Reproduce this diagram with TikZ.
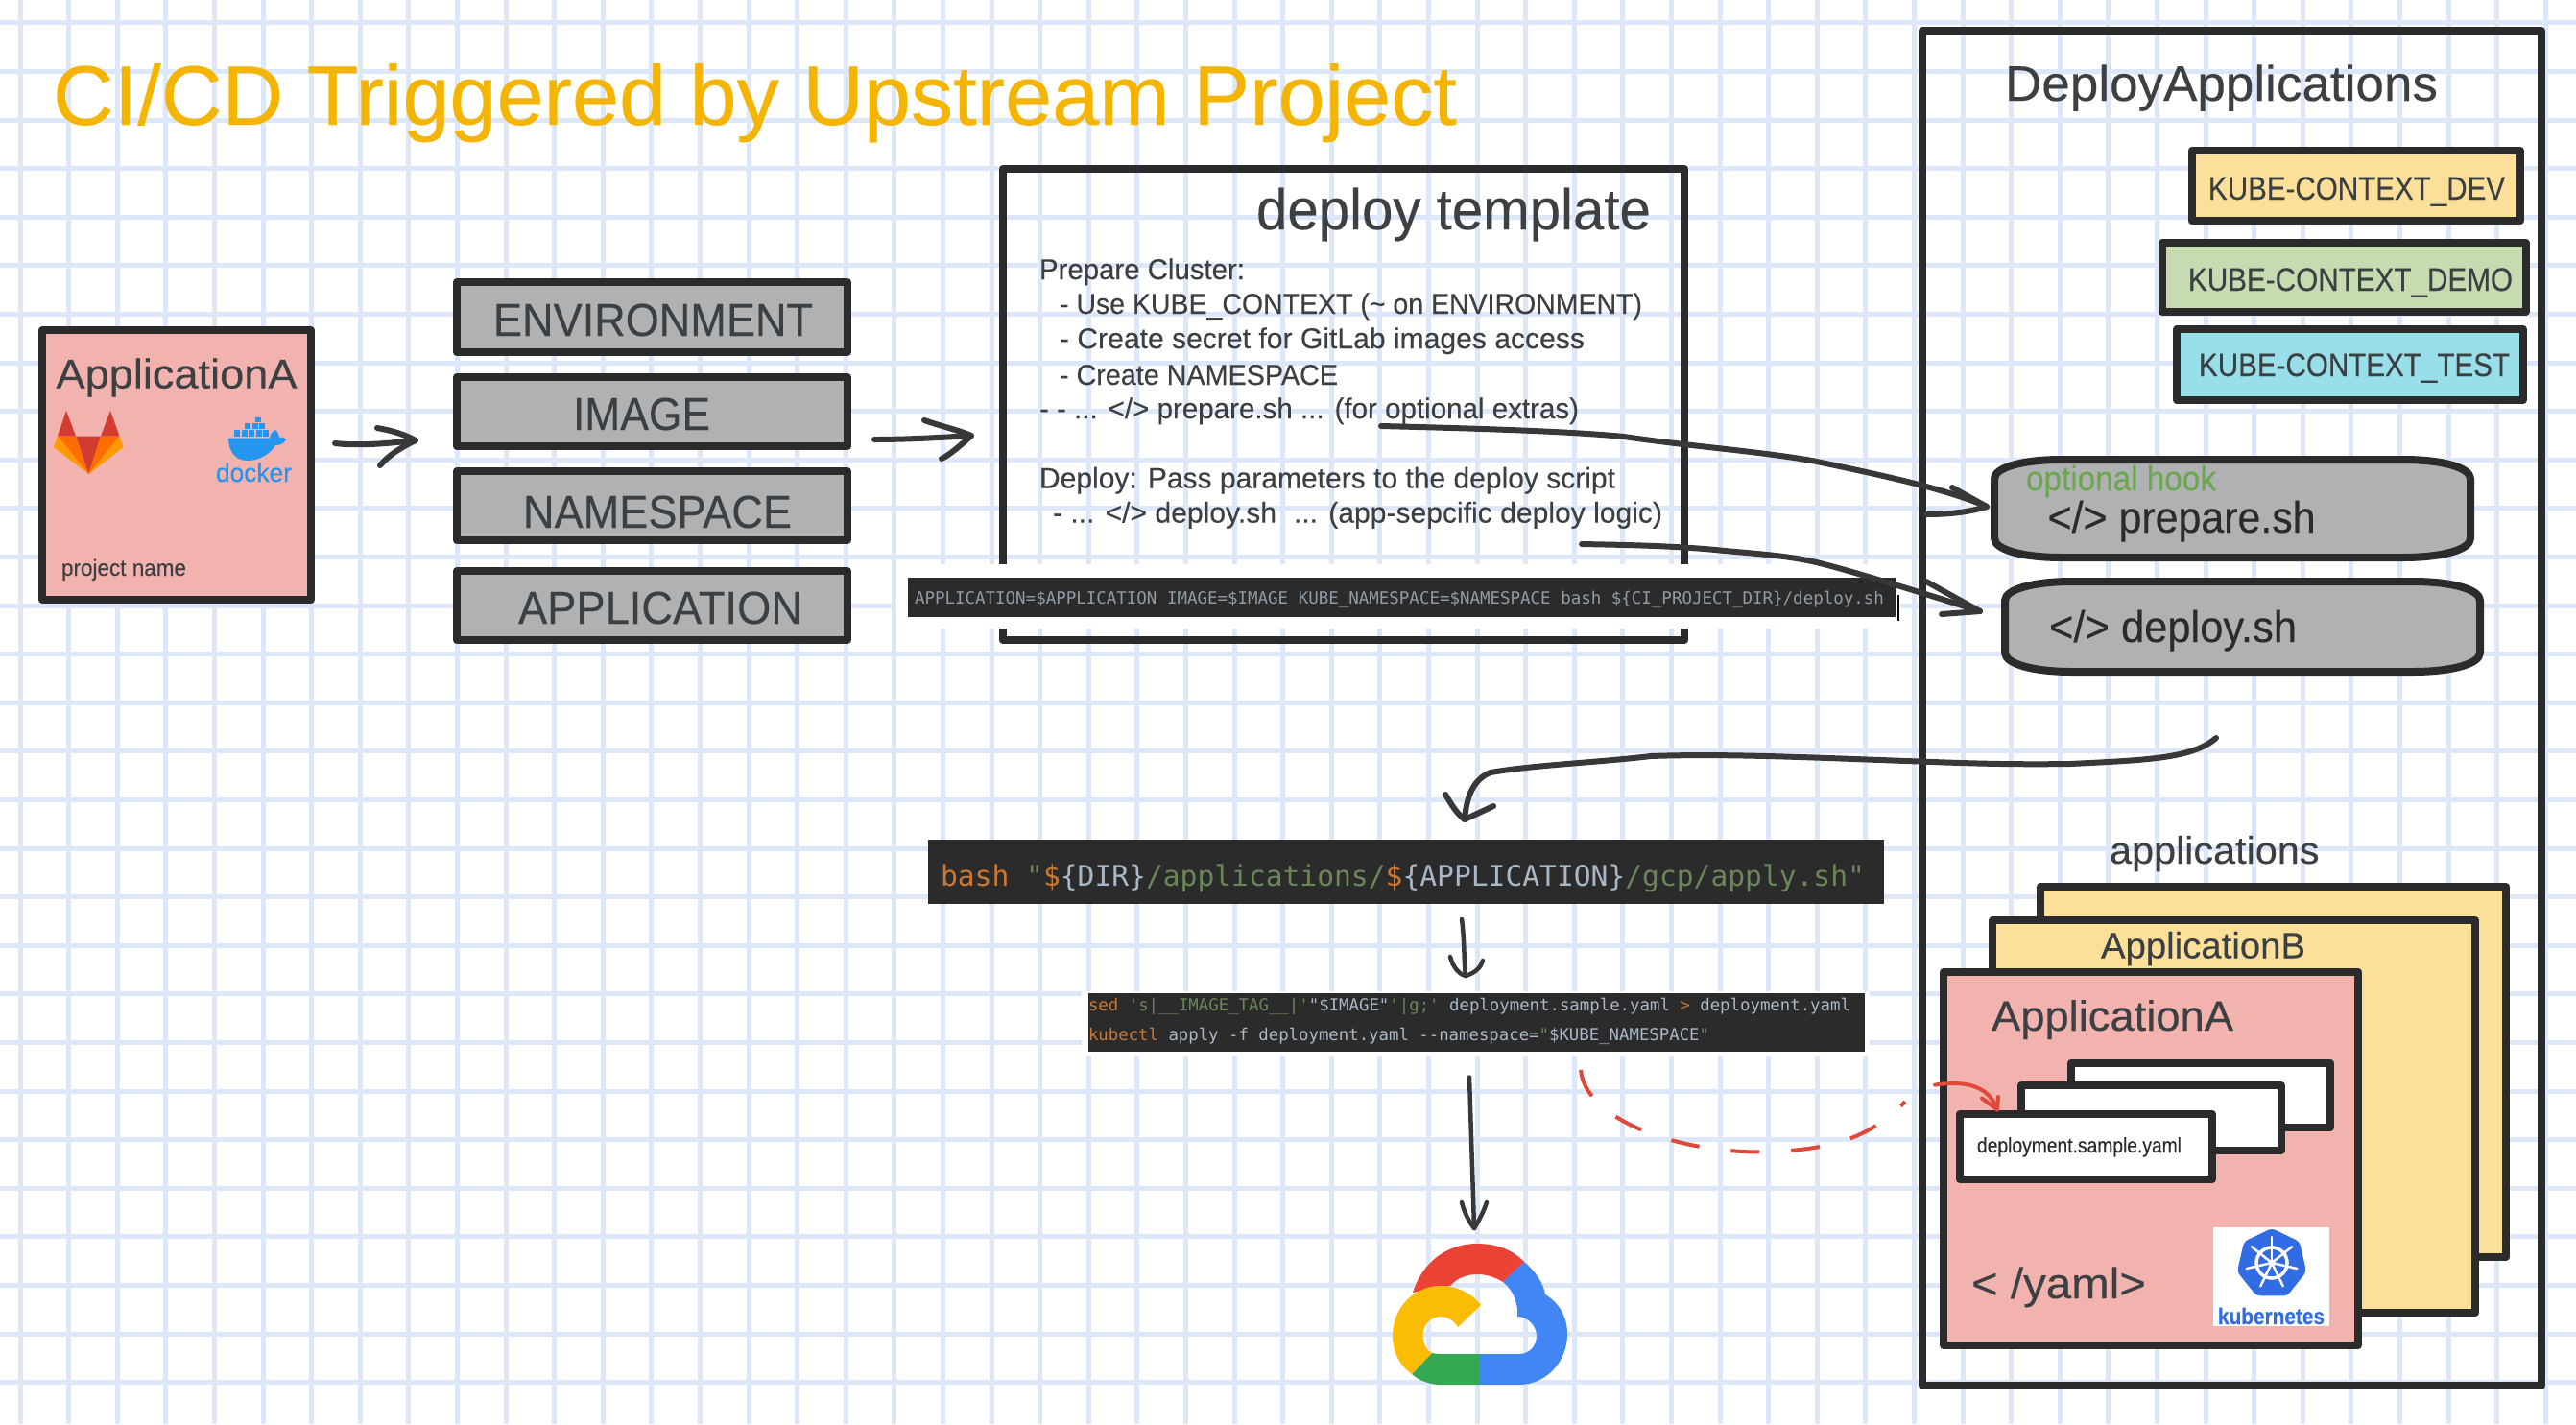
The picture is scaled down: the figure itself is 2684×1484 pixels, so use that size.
\documentclass[tikz,border=0pt]{standalone}
\usepackage{graphicx}
\usepackage{fontspec}
\setmainfont[FakeBold=0.25]{Liberation Sans}
\newfontfamily\codefont{DejaVu Sans Mono}
\usetikzlibrary{shapes.geometric}
\definecolor{gridc}{HTML}{DCE8FA}
\definecolor{ink}{HTML}{2B2B2B}
\definecolor{txtc}{HTML}{3C4043}
\definecolor{titlec}{HTML}{F4B400}
\definecolor{pinkc}{HTML}{F2B2AE}
\definecolor{greyc}{HTML}{B0B1B3}
\definecolor{yellc}{HTML}{FCE09A}
\definecolor{greenc}{HTML}{C6DBB0}
\definecolor{cyanc}{HTML}{98DFE9}
\definecolor{hookc}{HTML}{6AA84F}
\definecolor{sketchc}{HTML}{383838}
\definecolor{redl}{HTML}{E0483A}
\definecolor{codebg}{HTML}{2B2B2B}
\definecolor{cor}{HTML}{CC7832}
\definecolor{cgr}{HTML}{6A8759}
\definecolor{cgy}{HTML}{A9B7C6}
\definecolor{gred}{HTML}{EA4335}
\definecolor{gblue}{HTML}{4285F4}
\definecolor{gyel}{HTML}{FBBC05}
\definecolor{ggrn}{HTML}{34A853}
\definecolor{dockerc}{HTML}{2496ED}
\definecolor{kubec}{HTML}{326CE5}
\newcommand\fsz[1]{\fontsize{#1}{#1}\selectfont}
% name, x, baseline y, size, width, colour, text
\newcommand\mytext[7]{\node[txtnode,font=\fsz{#4},text=#6] (#1) at (#2,#3) {\resizebox{#5pt}{\height}{#7}};}
% name, outer x0, y0, x1, y1, fill
\newcommand\mybox[6]{%
  \pgfmathsetmacro\bw{#4-#2-8}\pgfmathsetmacro\bh{#5-#3-8}%
  \pgfmathsetmacro\bcx{(#2+#4)/2}\pgfmathsetmacro\bcy{(#3+#5)/2}%
  \node[boxnode,fill=#6,minimum width=\bw pt,minimum height=\bh pt] (#1) at (\bcx,\bcy) {};}
% outer x0,y0,x1,y1 of a pill
\newcommand\mypill[4]{%
  \draw[pill] (#1+4,#2+24) .. controls (#1+4,#2+12) and (#1+34,#2+4) .. (#1+74,#2+4)
    -- (#3-74,#2+4) .. controls (#3-34,#2+4) and (#3-4,#2+12) .. (#3-4,#2+24)
    -- (#3-4,#4-24) .. controls (#3-4,#4-12) and (#3-34,#4-4) .. (#3-74,#4-4)
    -- (#1+74,#4-4) .. controls (#1+34,#4-4) and (#1+4,#4-12) .. (#1+4,#4-24) -- cycle;}
\tikzset{
  gridline/.style={draw=gridc,line width=5pt},
  txtnode/.style={anchor=base west,inner sep=0pt,outer sep=0pt},
  boxnode/.style={draw=ink,line width=8pt,line join=round,inner sep=0pt,outer sep=0pt,rectangle},
  pill/.style={draw=ink,fill=greyc,line width=8pt,line join=round},
  sketch/.style={draw=sketchc,line width=6pt,line cap=round,line join=round},
  thinsk/.style={draw=sketchc,line width=4.5pt,line cap=round,line join=round},
  redsk/.style={draw=redl,line width=4pt,line cap=round,line join=round},
  band/.style={fill=codebg,draw=none}
}
\begin{document}
\begin{tikzpicture}[x=1pt,y=-1pt]
\useasboundingbox (0,0) rectangle (2684,1484);
\fill[white] (0,0) rectangle (2684,1484);
% paper grid
\foreach \k in {0,...,52}{\draw[gridline] ({21+50.6*\k},0) -- ({21+50.6*\k},1484);}
\foreach \k in {0,...,28}{\draw[gridline] (0,{23.9+50.6*\k}) -- (2684,{23.9+50.6*\k});}

\mytext{title}{55}{130}{88}{1463}{titlec}{CI/CD Triggered by Upstream Project}

% project box
\mybox{appbox}{40}{340}{328}{629}{pinkc}
\mytext{apptitle}{58.5}{404.6}{43}{251}{txtc}{ApplicationA}
\mytext{project}{64}{600}{24}{130}{txtc}{project name}
% gitlab logo
\fill[fill=gred!90!black] (79,454.5) -- (105,454.5) -- (92.4,494) -- cycle;
\fill[fill=gred!90!black] (69,428) -- (79,454.5) -- (60,454.5) -- cycle;
\fill[fill=gred!90!black] (115,428) -- (124.5,454.5) -- (105,454.5) -- cycle;
\fill[fill=orange!85!red] (60,454.5) -- (79,454.5) -- (92.4,494) -- cycle;
\fill[fill=orange!85!red] (124.5,454.5) -- (105,454.5) -- (92.4,494) -- cycle;
\fill[fill=orange!80!yellow] (60,454.5) -- (56,466) -- (92.4,494) -- cycle;
\fill[fill=orange!80!yellow] (124.5,454.5) -- (128.6,466) -- (92.4,494) -- cycle;
% docker logo
\foreach \cx in {244,251.5,259,266.5,274}{\fill[dockerc] (\cx,448) rectangle (\cx+6,455);}
\foreach \cx in {259,266.5,274}{\fill[dockerc] (\cx-4,441) rectangle (\cx+2,447);}
\fill[dockerc] (266,435) rectangle (272,440);
\fill[dockerc] (238,456.5) -- (281,456.5) .. controls (282,452) and (284,449) .. (287,448) .. controls (290,451) and (291,453) .. (291,456) .. controls (294,455) and (297,456) .. (298,458) .. controls (295,463) and (291,464) .. (287,464) .. controls (280,475) and (268,480) .. (258,480) .. controls (245,480) and (238,470) .. (238,456.5) -- cycle;
\mytext{dockertxt}{225}{502}{27}{79}{dockerc}{docker}

% parameter boxes
\mybox{envbox}{472}{290}{887}{371}{greyc}
\mybox{imgbox}{472}{389}{887}{469}{greyc}
\mybox{nsbox}{472}{487}{887}{567}{greyc}
\mybox{apbox}{472}{591}{887}{671}{greyc}
\mytext{envtxt}{514}{350}{48}{333}{txtc}{ENVIRONMENT}
\mytext{imgtxt}{597}{448}{48}{143}{txtc}{IMAGE}
\mytext{nstxt}{545}{550}{48}{280}{txtc}{NAMESPACE}
\mytext{aptxt}{540}{650}{48}{296}{txtc}{APPLICATION}

% deploy template
\node[boxnode,minimum width=710pt,minimum height=491pt] (tmpl) at (1400,421.5) {};
\mytext{tmpltitle}{1309}{239}{60}{411}{txtc}{deploy template}
\mytext{l1}{1083}{291}{30}{214}{txtc}{Prepare Cluster:}
\mytext{l2}{1104}{327}{30}{607}{txtc}{- Use KUBE\_CONTEXT (\textasciitilde{} on ENVIRONMENT)}
\mytext{l3}{1104}{363}{30}{547}{txtc}{- Create secret for GitLab images access}
\mytext{l4}{1104}{401}{30}{290}{txtc}{- Create NAMESPACE}
\mytext{l5}{1083}{436}{30}{562}{txtc}{- - ... </> prepare.sh ... (for optional extras)}
\mytext{l6}{1083}{508.5}{30}{600}{txtc}{Deploy: Pass parameters to the deploy script}
\mytext{l7}{1097}{544.6}{30}{635}{txtc}{- ... </> deploy.sh\hspace{18pt}... (app-sepcific deploy logic)}

% screenshot of the deploy command
\fill[white] (934,588) rectangle (1980,655);
\fill[band] (946,602) rectangle (1975,643);
\draw[line width=1.5pt,black] (1978,620) -- (1978,647);
\mytext{cmd}{953}{629}{17.5}{1010}{cgy!85!black}{\codefont APPLICATION=\$APPLICATION IMAGE=\$IMAGE KUBE\_NAMESPACE=\$NAMESPACE bash \$\{CI\_PROJECT\_DIR\}/deploy.sh}

% DeployApplications
\node[boxnode,minimum width=645pt,minimum height=1412pt] (deployapps) at (2325.5,738) {};
\mytext{datitle}{2089}{105}{52}{451}{txtc}{DeployApplications}
\mybox{kdev}{2279.5}{153}{2630}{234}{yellc}
\mybox{kdemo}{2248.5}{249}{2635.6}{329}{greenc}
\mybox{ktest}{2264}{339}{2632.5}{421}{cyanc}
\mytext{kdevt}{2301}{208}{34}{309}{txtc}{KUBE-CONTEXT\_DEV}
\mytext{kdemot}{2280}{303}{34}{338}{txtc}{KUBE-CONTEXT\_DEMO}
\mytext{ktestt}{2291}{392}{34}{324}{txtc}{KUBE-CONTEXT\_TEST}
\mypill{2074}{475}{2578}{585}
\mypill{2085}{602}{2588}{704}
\mytext{hook}{2111}{511}{36}{198}{hookc}{optional hook}
\mytext{prep}{2133.6}{555}{46}{279}{ink}{</> prepare.sh}
\mytext{depl}{2135}{669}{46}{258}{ink}{</> deploy.sh}

% applications stack
\mytext{appstxt}{2198}{900}{40}{218.5}{txtc}{applications}
\mybox{appc}{2122}{920}{2615}{1314}{yellc}
\mybox{appb}{2072}{955}{2583}{1372}{yellc}
\mytext{appbt}{2189}{998.5}{38}{213}{txtc}{ApplicationB}
\mybox{appa}{2021}{1009}{2461}{1406}{pinkc}
\mytext{appat}{2075}{1074}{44}{252}{txtc}{ApplicationA}
\mybox{w3}{2154}{1103.5}{2432}{1179}{white}
\mybox{w2}{2102}{1127}{2380.5}{1203}{white}
\mybox{w1}{2038}{1157}{2309}{1233}{white}
\mytext{sample}{2060}{1201}{22}{213}{ink}{deployment.sample.yaml}
\mytext{yaml}{2054}{1353}{45}{182}{txtc}{< /yaml>}
% kubernetes logo
\fill[white] (2305.5,1279) rectangle (2427,1382);
\node[regular polygon,regular polygon sides=7,minimum size=74pt,fill=kubec,inner sep=0pt,rounded corners=4pt] (k8s) at (2367,1317) {};
\begin{scope}[shift={(2367,1316)}]
  \draw[white,line width=3.5pt] (0,0) circle (16pt);
  \foreach \a in {-90,-38.57,12.86,64.29,115.71,167.14,218.57}{\draw[white,line width=2.5pt,line cap=round] (0,0) -- (\a:27);}
  \fill[white] (0,0) circle (3.5pt);
\end{scope}
\mytext{kubet}{2311}{1380}{24}{111}{kubec}{\bfseries kubernetes}

% bash screenshot
\fill[band] (967,875) rectangle (1963,942);
\mytext{bash}{980}{923}{29.7}{963}{cgy}{\codefont\textcolor{cor}{bash} \textcolor{cgr}{"}\textcolor{cor}{\$}\{DIR\}\textcolor{cgr}{/applications/}\textcolor{cor}{\$}\{APPLICATION\}\textcolor{cgr}{/gcp/apply.sh"}}
% sed screenshot
\fill[white] (1127,1033) rectangle (1948,1100);
\fill[band] (1134,1035) rectangle (1943,1096);
\mytext{sed}{1134}{1053}{17.4}{794}{cgy}{\codefont\textcolor{cor}{sed} \textcolor{cgr}{'s|\_\_IMAGE\_TAG\_\_|'}"\$IMAGE"\textcolor{cgr}{'|g;'} deployment.sample.yaml \textcolor{cor}{>} deployment.yaml}
\mytext{kubectl}{1134}{1084}{17.4}{647}{cgy}{\codefont\textcolor{cor}{kubectl} apply -f deployment.yaml -{}-namespace=\textcolor{cgr}{"}\$KUBE\_NAMESPACE\textcolor{cgr}{"}}

% google cloud logo
\fill[gred] (1472,1347) .. controls (1482,1315) and (1508,1296) .. (1539,1296) .. controls (1560,1296) and (1577,1303) .. (1588,1315) -- (1566,1336) .. controls (1558,1331) and (1549,1328) .. (1539,1328) .. controls (1528,1328) and (1518,1332) .. (1511,1340) -- cycle;
\fill[gblue] (1588,1315) .. controls (1600,1325) and (1608,1337) .. (1610,1349) .. controls (1625,1358) and (1633,1373) .. (1633,1390) .. controls (1633,1420) and (1610,1443) .. (1583,1443) -- (1541,1443) -- (1541,1411) -- (1583,1411) .. controls (1594,1411) and (1601,1402) .. (1601,1392) .. controls (1601,1382) and (1592,1372) .. (1581,1372) .. controls (1582,1358) and (1577,1345) .. (1566,1336) -- cycle;
\fill[ggrn] (1492,1410) .. controls (1495,1411) and (1498,1411) .. (1501,1411) -- (1541,1411) -- (1541,1443) -- (1501,1443) .. controls (1490,1443) and (1479,1439) .. (1471,1432) -- cycle;
\fill[gyel] (1543,1360) -- (1519,1383) .. controls (1515,1376) and (1508,1372) .. (1501,1372) .. controls (1490,1372) and (1482.5,1381) .. (1482.5,1392) .. controls (1482.5,1400) and (1487,1408) .. (1492,1410) -- (1471,1432) .. controls (1458,1423) and (1451,1408) .. (1451,1392) .. controls (1451,1363) and (1473,1340) .. (1501,1340) .. controls (1518,1340) and (1534,1348) .. (1543,1360) -- cycle;

% connectors
\coordinate (a1s) at (349,462); \coordinate (a1e) at (433,459);
\draw[sketch] (a1s) .. controls (375,465) and (405,462) .. (a1e);
\draw[sketch] (393,446) .. controls (410,449) and (422,453) .. (a1e) .. controls (420,465) and (405,474) .. (396,485);
\coordinate (a2s) at (911,458); \coordinate (a2e) at (1012,454);
\draw[sketch] (a2s) .. controls (945,458) and (980,456) .. (a2e);
\draw[sketch] (963,438) .. controls (980,444) and (998,448) .. (a2e) .. controls (1000,465) and (988,475) .. (981,478);
\coordinate (c1s) at (1439,444); \coordinate (c1e) at (2070,528);
\draw[sketch] (c1s) .. controls (1560,447) and (1640,450) .. (1692,455) .. controls (1760,465) and (1830,470) .. (1888,480) .. controls (1960,495) and (2030,510) .. (c1e);
\draw[sketch] (2034,508) -- (c1e) .. controls (2050,534) and (2030,536) .. (2007,536);
\coordinate (c2s) at (1648,567); \coordinate (c2e) at (2063,637);
\draw[sketch] (c2s) .. controls (1700,568) and (1750,569) .. (1797,574) .. controls (1830,577) and (1860,579) .. (1888,585) .. controls (1920,592) and (2010,620) .. (c2e);
\draw[sketch] (2007,606) -- (c2e) -- (2023,640);
\coordinate (c3s) at (2309,769); \coordinate (c3e) at (1526,854);
\draw[sketch] (c3s) .. controls (2285,790) and (2240,792) .. (2157,796) .. controls (2090,797) and (2040,795) .. (2000,793.5) .. controls (1900,790) and (1800,785) .. (1720,788) .. controls (1660,795) and (1600,797) .. (1553,805) .. controls (1535,812) and (1528,830) .. (c3e);
\draw[sketch] (1506,828) .. controls (1512,838) and (1518,848) .. (c3e) -- (1556,840);
\coordinate (d1s) at (1523,958); \coordinate (d1e) at (1527,1017);
\draw[thinsk] (d1s) .. controls (1526,980) and (1525,1000) .. (d1e);
\draw[thinsk] (1511,997) .. controls (1514,1008) and (1520,1015) .. (d1e) .. controls (1537,1014) and (1543,1008) .. (1545,1001);
\coordinate (d2s) at (1531,1122.5); \coordinate (d2e) at (1536,1280);
\draw[thinsk] (d2s) -- (d2e);
\draw[thinsk] (1523,1253) .. controls (1526,1265) and (1532,1275) .. (d2e) .. controls (1541,1272) and (1546,1262) .. (1549,1253);
\coordinate (r1s) at (1647,1115); \coordinate (r1e) at (1985,1148);
\draw[redsk,line cap=butt,dash pattern=on 30pt off 33pt] (r1s) .. controls (1652,1170) and (1760,1205) .. (1851,1200) .. controls (1900,1197) and (1945,1190) .. (r1e);
\coordinate (r2s) at (2016,1130.6); \coordinate (r2e) at (2081,1156.5);
\draw[redsk] (r2s) .. controls (2045,1126) and (2072,1130) .. (r2e);
\draw[redsk] (2065,1144.5) -- (r2e) -- (2082,1143);
\end{tikzpicture}
\end{document}
